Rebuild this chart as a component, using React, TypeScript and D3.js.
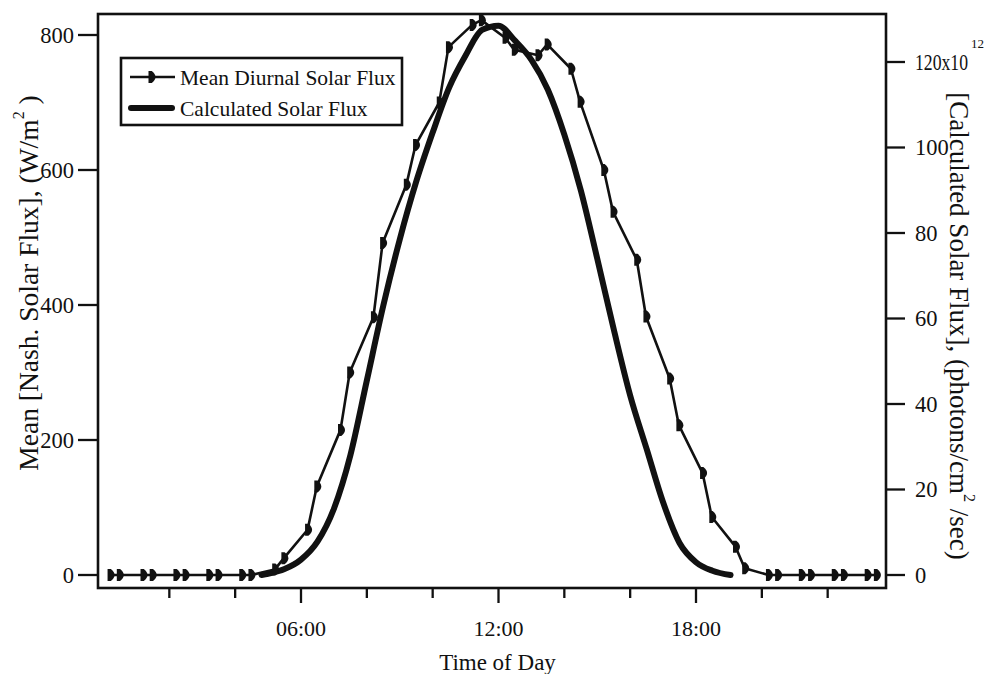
import React from 'react';
import * as d3 from 'd3';

// Mean diurnal solar flux (W/m^2)
const meanHours = [
  0.2, 0.48, 1.2, 1.48, 2.2, 2.48, 3.2, 3.48, 4.2, 4.48,
  5.2, 5.48, 6.2, 6.48, 7.2, 7.48, 8.2, 8.48, 9.2, 9.48,
  10.2, 10.48, 11.2, 11.48, 12.2, 12.48, 13.2, 13.48, 14.2, 14.48,
  15.2, 15.48, 16.2, 16.48, 17.2, 17.48, 18.2, 18.48, 19.2, 19.48,
  20.2, 20.48, 21.2, 21.48, 22.2, 22.48, 23.2, 23.48,
];
const meanFlux = [
  0, 0, 0, 0, 0, 0, 0, 0, 0, 0,
  8, 25, 67, 131, 215, 300, 382, 492, 578, 637,
  700, 782, 815, 822, 796, 778, 770, 786, 750, 701,
  600, 538, 467, 383, 291, 222, 151, 86, 42, 10,
  0, 0, 0, 0, 0, 0, 0, 0,
];

// Calculated solar flux (x10^12 photons/cm^2/sec)
const calcHours = [
  4.8, 5.0, 5.5, 6.0, 6.5, 7.0, 7.5, 8.0, 8.5, 9.0, 9.5, 10.0, 10.5, 11.0, 11.5,
  12.0, 12.5, 13.0, 13.5, 14.0, 14.5, 15.0, 15.5, 16.0, 16.5, 17.0, 17.5, 18.0, 18.5, 19.05,
];
const calcFlux = [
  0, 0.3, 1.4, 3.6, 7.8, 15.5, 28, 45.5, 63, 78.5, 92, 103.5, 114, 121.5, 127.5,
  128.5, 125, 120.5, 113.5, 103, 90, 74, 57.5, 42, 29.5, 17, 7.5, 3, 1, 0,
];

const leftTicks = [0, 200, 400, 600, 800];
const rightTicks = [0, 20, 40, 60, 80, 100, 120];
const hourTicks = [2, 4, 6, 8, 10, 12, 14, 16, 18, 20, 22];
const majorHours = [6, 12, 18];
const hourLabels = ['06:00', '12:00', '18:00'];

const FONT = '"Liberation Serif", "Times New Roman", serif';
const INK = '#111';

const markerPath = 'M-2.5,-6 L0.8,-6 Q4.5,-3.2 4.5,0 Q4.5,3.2 0.8,6 L-2.5,6 Z';

export default function App() {
  const W = 993;
  const H = 674;
  const frame = { l: 98, r: 886, t: 14, b: 588 };

  const x = d3.scaleLinear().domain([0, 24]).range([103.5, 893.5]);
  const yL = d3.scaleLinear().domain([0, 800]).range([575, 35]);
  const yR = d3.scaleLinear().domain([0, 120]).range([575, 62]);

  const meanPts: [number, number][] = meanHours.map((h, i) => [x(h), yL(meanFlux[i])]);
  const calcPts: [number, number][] = calcHours.map((h, i) => [x(h), yR(calcFlux[i])]);

  const meanLine = d3.line()(meanPts) || '';
  const calcLine = d3.line().curve(d3.curveMonotoneX)(calcPts) || '';

  return (
    <svg width={W} height={H} style={{ position: 'absolute', left: 0, top: 0, background: '#fff' }}
      fontFamily={FONT} fill={INK}>
      <rect x={0} y={0} width={W} height={H} fill="#fff" />

      {/* calculated curve */}
      <path d={calcLine} fill="none" stroke={INK} strokeWidth={6} strokeLinejoin="round" strokeLinecap="round" />

      {/* mean curve */}
      <path d={meanLine} fill="none" stroke={INK} strokeWidth={2.6} strokeLinejoin="round" />
      {meanPts.map(([px, py], i) => (
        <path key={i} d={markerPath} transform={`translate(${px},${py})`} fill={INK} />
      ))}

      {/* frame */}
      <rect x={frame.l} y={frame.t} width={frame.r - frame.l} height={frame.b - frame.t}
        fill="none" stroke={INK} strokeWidth={2.6} />

      {/* left axis */}
      {leftTicks.map((v) => (
        <g key={v}>
          <line x1={frame.l - 20} x2={frame.l} y1={yL(v)} y2={yL(v)} stroke={INK} strokeWidth={2.3} />
          <text x={frame.l - 24} y={yL(v) + 7.5} fontSize={22.5} textAnchor="end">{v}</text>
        </g>
      ))}

      {/* right axis */}
      {rightTicks.map((v) => (
        <g key={v}>
          <line x1={frame.r} x2={frame.r + 19} y1={yR(v)} y2={yR(v)} stroke={INK} strokeWidth={2.3} />
          {v === 120 ? (
            <g>
              <text x={frame.r + 29} y={yR(v) + 7.5} fontSize={22.5} textLength={53} lengthAdjust="spacingAndGlyphs">120x10</text>
              <text x={frame.r + 85} y={yR(v) - 14} fontSize={13}>12</text>
            </g>
          ) : (
            <text x={frame.r + 29} y={yR(v) + 7.5} fontSize={22.5}>{v}</text>
          )}
        </g>
      ))}

      {/* bottom axis */}
      {hourTicks.map((h) => {
        const major = majorHours.includes(h);
        return (
          <line key={h} x1={x(h)} x2={x(h)} y1={frame.b} y2={frame.b + (major ? 15 : 10)}
            stroke={INK} strokeWidth={2.3} />
        );
      })}
      {majorHours.map((h, i) => (
        <text key={h} x={x(h)} y={636} fontSize={22} textAnchor="middle">{hourLabels[i]}</text>
      ))}
      <text x={x(12) - 1} y={670} fontSize={23} textAnchor="middle">Time of Day</text>

      {/* left title */}
      <text transform="translate(38,283) rotate(-90)" fontSize={27.5} textAnchor="middle">
        Mean [Nash. Solar Flux], (W/m<tspan dy={-14} fontSize={16}>2</tspan><tspan dy={14}> )</tspan>
      </text>

      {/* right title */}
      <text transform="translate(950,326) rotate(90)" fontSize={27} textAnchor="middle">
        [Calculated Solar Flux], (photons/cm<tspan dy={-14} fontSize={16}>2</tspan><tspan dy={14}> /sec)</tspan>
      </text>

      {/* legend */}
      <rect x={121} y={58} width={281} height={67} fill="#fff" stroke={INK} strokeWidth={2.6} />
      <line x1={130} x2={175} y1={77} y2={77} stroke={INK} strokeWidth={2.6} />
      <path d={markerPath} transform="translate(151,77)" fill={INK} />
      <text x={180} y={84.5} fontSize={21.5}>Mean Diurnal Solar Flux</text>
      <line x1={131} x2={172} y1={108} y2={108} stroke={INK} strokeWidth={6} strokeLinecap="round" />
      <text x={180} y={115.5} fontSize={21.5}>Calculated Solar Flux</text>
    </svg>
  );
}
